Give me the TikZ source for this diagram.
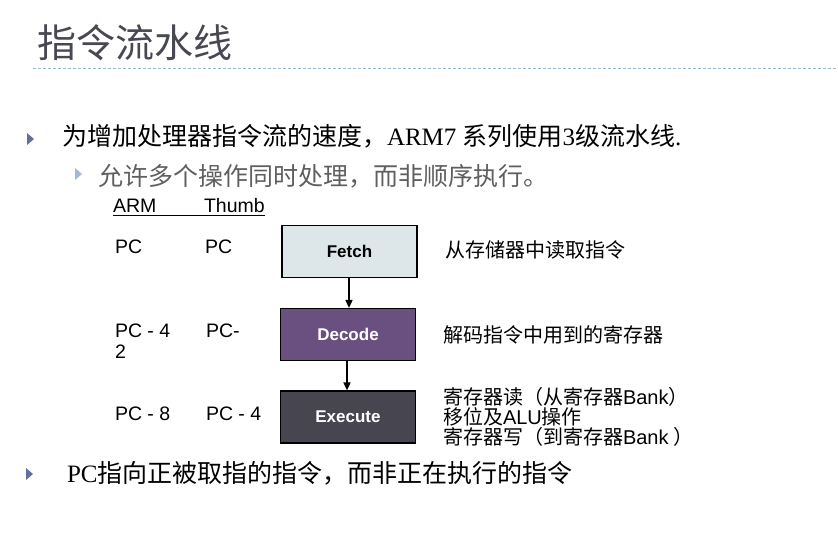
\documentclass[tikz,border=0pt]{standalone}
\usepackage{fontspec}
\setmainfont{Liberation Serif}
\newfontfamily\cjk{Noto Sans CJK SC}
\newfontfamily\arial{Liberation Sans}
\usetikzlibrary{arrows.meta}
\definecolor{titlegray}{RGB}{72,72,82}
\definecolor{dashblue}{RGB}{150,185,215}
\definecolor{bulletA}{RGB}{100,112,155}
\definecolor{bulletB}{RGB}{165,185,212}
\definecolor{subgray}{RGB}{95,95,95}
\definecolor{fetchfill}{RGB}{221,231,233}
\definecolor{decodefill}{RGB}{106,80,128}
\definecolor{execfill}{RGB}{70,69,80}
\tikzset{
  txt/.style={anchor=base west, inner sep=0pt, outer sep=0pt},
  stage/.style={draw=black, line width=1.2pt, minimum width=135pt, minimum height=52pt,
    inner sep=0pt, font=\arial\bfseries\fontsize{17}{20}\selectfont},
  flow/.style={line width=1.6pt, -{Triangle[length=8pt,width=7pt]}},
  desc/.style={txt, font=\cjk\fontsize{20}{21}\selectfont}
}
\begin{document}
\begin{tikzpicture}[x=1pt,y=-1pt]
\useasboundingbox (0,0) rectangle (838,547);
% title
\node[txt, text=titlegray, font=\cjk\fontsize{39}{42}\selectfont] (title) at (37,57) {指令流水线};
\coordinate (dl) at (33,68);
\coordinate (dr) at (838,68);
\draw[dashblue, dash pattern=on 3pt off 2pt, line width=0.8pt] (dl) -- (dr);
% bullets
\fill[bulletA] (27,133) -- (34,139) -- (27,145) -- cycle;
\node[txt, font=\fontsize{25}{28}\selectfont] (b1) at (62,145)
  {{\cjk 为增加处理器指令流的速度，}ARM7 {\cjk 系列使用}3{\cjk 级流水线}.};
\fill[bulletB] (75,168) -- (82,174) -- (75,180) -- cycle;
\node[txt, text=subgray, font=\cjk\fontsize{25}{26}\selectfont] (b2) at (98,185)
  {允许多个操作同时处理，而非顺序执行。};
\fill[bulletA] (26,468) -- (33,474) -- (26,480) -- cycle;
\node[txt, font=\fontsize{25}{28}\selectfont] (b3) at (67,482)
  {PC{\cjk 指向正被取指的指令，而非正在执行的指令}};
% table
\begin{scope}[every node/.style={txt, font=\arial\fontsize{19.5}{21}\selectfont}]
\node (harm) at (113,212) {ARM};
\node (hthumb) at (204,212) {Thumb};
\node (a1) at (115,253) {PC};
\node (t1) at (205,253) {PC};
\node (a2) at (115,337) {PC - 4};
\node (a2b) at (115,358) {2};
\node (t2) at (206,337) {PC-};
\node (a3) at (115,420) {PC - 8};
\node (t3) at (206,420) {PC - 4};
\end{scope}
\draw[line width=0.8pt] (harm.base west) ++(0,3.5) -- ([yshift=-3.5pt]hthumb.base east);
% stages
\node[stage, fill=fetchfill, text=black] (fetch) at (349.5,251.5) {Fetch};
\node[stage, fill=decodefill, text=white] (decode) at (348,334.5) {Decode};
\node[stage, fill=execfill, text=white] (exec) at (348,417) {Execute};
\draw[flow] ([xshift=-0.5pt]fetch.south) -- ([xshift=-0.5pt]fetch.south |- decode.north);
\draw[flow] ([xshift=-1pt]decode.south) -- ([xshift=-1pt]decode.south |- exec.north);
% descriptions
\node[desc] (d1) at (445,257) {从存储器中读取指令};
\node[desc] (d2) at (443,342) {解码指令中用到的寄存器};
\node[desc] (d3) at (443,404) {寄存器读（从寄存器{\arial Bank}）};
\node[desc] (d4) at (443,424) {移位及{\arial ALU}操作};
\node[desc] (d5) at (443,444) {寄存器写（到寄存器{\arial Bank} ）};
\end{tikzpicture}
\end{document}
